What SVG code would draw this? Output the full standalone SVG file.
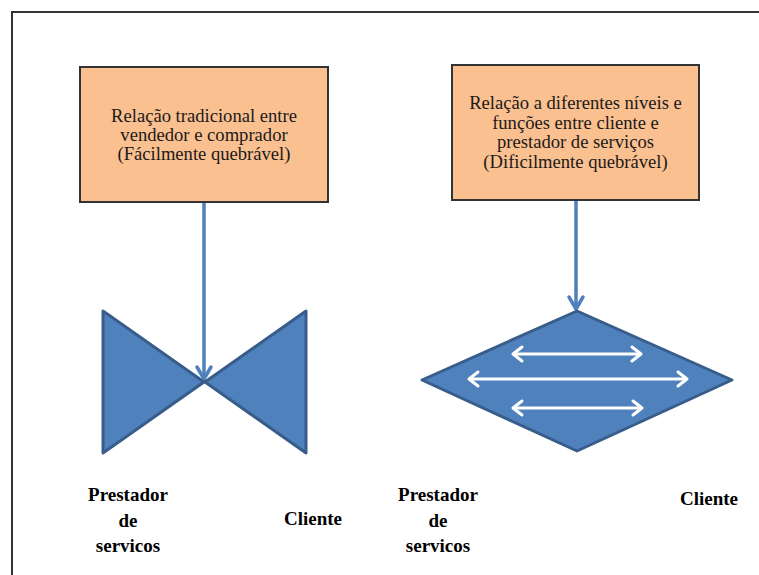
<svg xmlns="http://www.w3.org/2000/svg" width="759" height="575" viewBox="0 0 759 575">
  <defs>
    <style>
      .frame { fill: none; stroke: #333333; stroke-width: 2; }
      .box { fill: #FAC090; stroke: #333333; stroke-width: 2; }
      .shape { fill: #4F81BD; stroke: #385D8A; stroke-width: 3; stroke-linejoin: round; }
      .conn { stroke: #4F81BD; stroke-width: 3.5; fill: none; }
      .head { stroke: #4F81BD; stroke-width: 3.5; fill: none; stroke-linecap: round; stroke-linejoin: round; }
      .dbl { stroke: #FFFFFF; stroke-width: 3; fill: none; stroke-linecap: round; stroke-linejoin: round; }
      .boxtext { font-family: 'Liberation Serif', 'DejaVu Serif', serif; font-size: 18.6px; fill: #1a1a1a; text-anchor: middle; }
      .label { font-family: 'Liberation Serif', 'DejaVu Serif', serif; font-size: 19px; font-weight: bold; fill: #000000; text-anchor: middle; }
    </style>
  </defs>

  <rect width="759" height="575" fill="#FFFFFF"/>
  <!-- outer frame (only top and left edges fall inside the canvas) -->
  <rect class="frame" x="12" y="12" width="800" height="620"/>

  <g id="connectors">
    <line class="conn" x1="204" y1="203" x2="204" y2="378"/>
    <polyline class="head" points="197,367 204,379 211,367"/>
    <line class="conn" x1="576" y1="201" x2="576" y2="308"/>
    <polyline class="head" points="569,297 576,309 583,297"/>
  </g>

  <g id="box-tradicional">
    <rect class="box" x="80" y="67" width="248" height="135"/>
    <text class="boxtext" x="204" y="122">Relação tradicional entre</text>
    <text class="boxtext" x="204" y="141">vendedor e comprador</text>
    <text class="boxtext" x="204" y="160">(Fácilmente quebrável)</text>
  </g>

  <g id="box-niveis">
    <rect class="box" x="452" y="65" width="247" height="135"/>
    <text class="boxtext" x="575.5" y="109">Relação a diferentes níveis e</text>
    <text class="boxtext" x="575.5" y="128.5">funções entre cliente e</text>
    <text class="boxtext" x="575.5" y="148">prestador de serviços</text>
    <text class="boxtext" x="575.5" y="167.5">(Dificilmente quebrável)</text>
  </g>

  <g id="bowtie">
    <polygon class="shape" points="103,311 204,382 103,453"/>
    <polygon class="shape" points="306,311 205,382 306,453"/>
  </g>

  <g id="diamond">
    <polygon class="shape" points="577,311 732,380 577,451 422,380"/>
    <g class="dbl">
      <line x1="514" y1="354" x2="640" y2="354"/>
      <polyline points="522,347 513,354 522,361"/>
      <polyline points="632,347 641,354 632,361"/>
      <line x1="470" y1="379" x2="686" y2="379"/>
      <polyline points="478,372 469,379 478,386"/>
      <polyline points="678,372 687,379 678,386"/>
      <line x1="514" y1="408" x2="641" y2="408"/>
      <polyline points="522,401 513,408 522,415"/>
      <polyline points="633,401 642,408 633,415"/>
    </g>
  </g>

  <g id="label-prestador-1">
    <text class="label" x="128" y="501">Prestador</text>
    <text class="label" x="128" y="527">de</text>
    <text class="label" x="128" y="552">servicos</text>
  </g>
  <g id="label-cliente-1">
    <text class="label" x="313" y="525">Cliente</text>
  </g>
  <g id="label-prestador-2">
    <text class="label" x="438" y="501">Prestador</text>
    <text class="label" x="438" y="527">de</text>
    <text class="label" x="438" y="552">servicos</text>
  </g>
  <g id="label-cliente-2">
    <text class="label" x="709" y="505">Cliente</text>
  </g>
</svg>
